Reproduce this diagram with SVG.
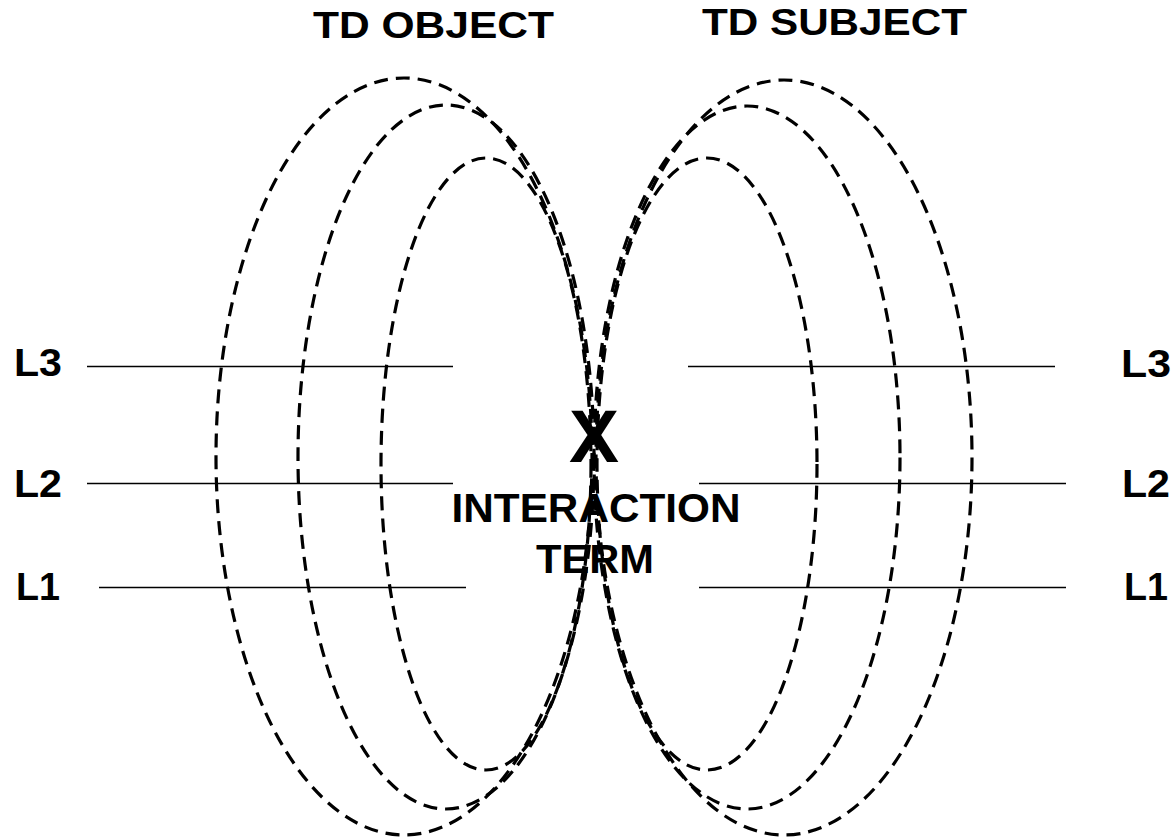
<svg xmlns="http://www.w3.org/2000/svg" width="1172" height="839" viewBox="0 0 1172 839">
<style>
.ring{fill:none;stroke:#000;stroke-width:3.2;stroke-dasharray:14 8}
.lvl{stroke:#000;stroke-width:1.6}
.t{font-family:"Liberation Sans",Arial,sans-serif;font-weight:bold;fill:#000}
</style>
<rect width="1172" height="839" fill="#fff"/>
<g id="td-object">
<ellipse class="ring" cx="404" cy="456.5" rx="188" ry="378.5"/>
<ellipse class="ring" cx="446" cy="457" rx="148" ry="352"/>
<ellipse class="ring" cx="486" cy="464" rx="105" ry="306"/>
<text class="t" x="313" y="38" font-size="36" textLength="241" lengthAdjust="spacingAndGlyphs">TD OBJECT</text>
</g>
<g id="td-subject">
<ellipse class="ring" cx="784" cy="457.5" rx="188" ry="377.5"/>
<ellipse class="ring" cx="747" cy="457.5" rx="153" ry="351.5"/>
<ellipse class="ring" cx="707" cy="464" rx="110" ry="306"/>
<text class="t" x="702" y="35" font-size="36" textLength="265" lengthAdjust="spacingAndGlyphs">TD SUBJECT</text>
</g>
<g id="levels">
<line class="lvl" x1="87" y1="366.5" x2="453" y2="366.5"/>
<line class="lvl" x1="87" y1="483.5" x2="453" y2="483.5"/>
<line class="lvl" x1="99" y1="587.5" x2="466" y2="587.5"/>
<line class="lvl" x1="688" y1="366.5" x2="1055" y2="366.5"/>
<line class="lvl" x1="699" y1="483.5" x2="1066" y2="483.5"/>
<line class="lvl" x1="699" y1="587.5" x2="1066" y2="587.5"/>
<text class="t" x="14" y="376" font-size="38" textLength="48" lengthAdjust="spacingAndGlyphs">L3</text>
<text class="t" x="14" y="497" font-size="38" textLength="48" lengthAdjust="spacingAndGlyphs">L2</text>
<text class="t" x="16" y="600" font-size="38" textLength="44" lengthAdjust="spacingAndGlyphs">L1</text>
<text class="t" x="1121" y="377" font-size="38" textLength="50" lengthAdjust="spacingAndGlyphs">L3</text>
<text class="t" x="1122" y="497" font-size="38" textLength="48" lengthAdjust="spacingAndGlyphs">L2</text>
<text class="t" x="1124" y="600" font-size="38" textLength="44" lengthAdjust="spacingAndGlyphs">L1</text>
</g>
<g id="interaction">
<text class="t" x="594" y="462" font-size="75" text-anchor="middle">X</text>
<text class="t" x="596" y="522" font-size="40" text-anchor="middle" textLength="289" lengthAdjust="spacingAndGlyphs">INTERACTION</text>
<text class="t" x="595" y="573" font-size="40" text-anchor="middle" textLength="118" lengthAdjust="spacingAndGlyphs">TERM</text>
</g>
</svg>
